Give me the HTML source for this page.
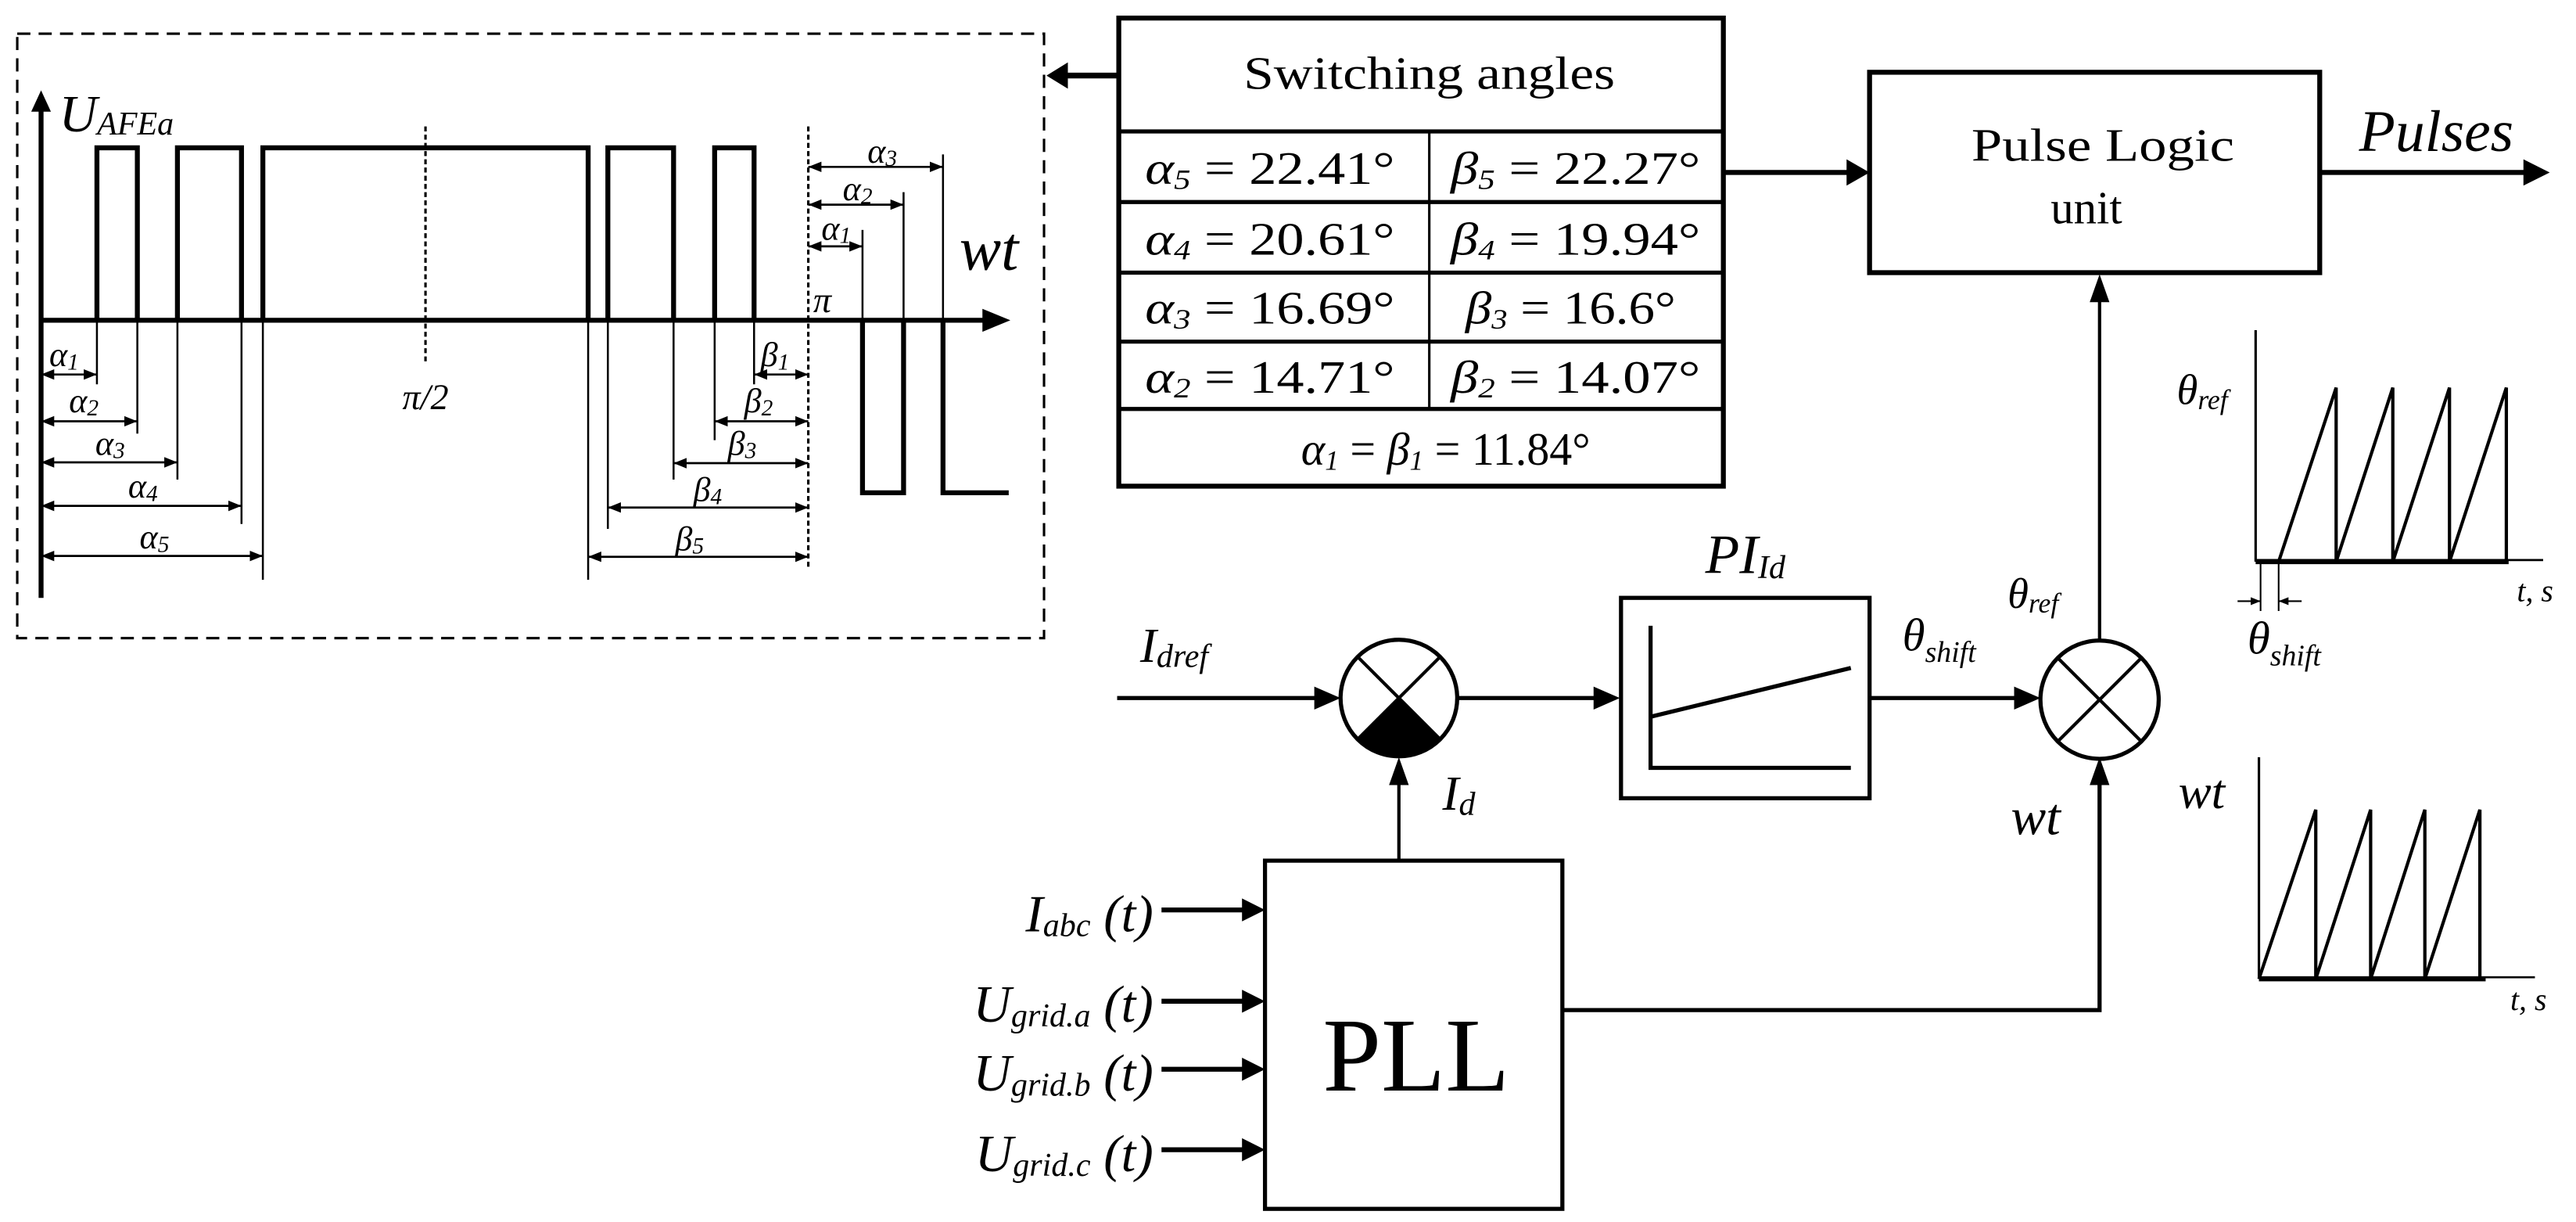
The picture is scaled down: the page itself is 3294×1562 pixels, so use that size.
<!DOCTYPE html>
<html><head><meta charset="utf-8"><style>
html,body{margin:0;padding:0;background:#fff}
svg{display:block}
text{font-family:"Liberation Serif",serif;fill:#000}
.i{font-style:italic}
</style></head><body>
<svg width="3294" height="1562" viewBox="0 0 1568 744" preserveAspectRatio="none" xmlns="http://www.w3.org/2000/svg">
<defs>
<marker id="a" viewBox="0 0 10 10" refX="10" refY="5" markerWidth="8" markerHeight="8" markerUnits="userSpaceOnUse" orient="auto-start-reverse"><path d="M0,1 L10,5 L0,9 z"/></marker>
<marker id="b" viewBox="0 0 10 10" refX="10" refY="5" markerWidth="6" markerHeight="6" markerUnits="strokeWidth" orient="auto-start-reverse"><path d="M0,1 L10,5 L0,9 z"/></marker>
</defs>
<g fill="none" stroke="#000">
<rect x="10.5" y="20.5" width="625" height="368" stroke-width="1.5" stroke-dasharray="8,5"/>
<line x1="25" y1="364" x2="25" y2="66" stroke-width="3"/>
<path d="M19,68 L25,55 L31,68z" fill="#000" stroke="none"/>
<line x1="25" y1="195" x2="600" y2="195" stroke-width="3"/>
<path d="M598,188 L615,195 L598,202z" fill="#000" stroke="none"/>
<path d="M59,195 V90 H83.6 V195 M108,195 V90 H147 V195 M160,195 V90 H358 V195 M370,195 V90 H410 V195 M435,195 V90 H459 V195 M525,195 V300 H550 V195 M574,195 V300 H614" stroke-width="3"/>
<line x1="259" y1="77" x2="259" y2="220" stroke-width="1.5" stroke-dasharray="3,2"/>
<line x1="492" y1="77" x2="492" y2="346" stroke-width="1.5" stroke-dasharray="3,2"/>
<g stroke-width="1.2">
<line x1="59" y1="195" x2="59" y2="234"/>
<line x1="83.6" y1="195" x2="83.6" y2="264"/>
<line x1="108" y1="195" x2="108" y2="292"/>
<line x1="147" y1="195" x2="147" y2="319"/>
<line x1="160" y1="195" x2="160" y2="353"/>
<line x1="358" y1="195" x2="358" y2="353"/>
<line x1="370" y1="195" x2="370" y2="322"/>
<line x1="410" y1="195" x2="410" y2="292"/>
<line x1="435" y1="195" x2="435" y2="268"/>
<line x1="459" y1="195" x2="459" y2="234"/>
<line x1="525" y1="140" x2="525" y2="195"/>
<line x1="550" y1="117" x2="550" y2="195"/>
<line x1="574" y1="94" x2="574" y2="195"/>
</g>
<g stroke-width="1.3" marker-start="url(#a)" marker-end="url(#a)">
<line x1="25" y1="228" x2="59" y2="228"/>
<line x1="25" y1="256.5" x2="83.6" y2="256.5"/>
<line x1="25" y1="281.5" x2="108" y2="281.5"/>
<line x1="25" y1="308" x2="147" y2="308"/>
<line x1="25" y1="338.5" x2="160" y2="338.5"/>
<line x1="459" y1="228" x2="492" y2="228"/>
<line x1="435" y1="256.5" x2="492" y2="256.5"/>
<line x1="410" y1="282" x2="492" y2="282"/>
<line x1="370" y1="309" x2="492" y2="309"/>
<line x1="358" y1="339" x2="492" y2="339"/>
<line x1="492" y1="150" x2="525" y2="150"/>
<line x1="492" y1="124.6" x2="550" y2="124.6"/>
<line x1="492" y1="101.6" x2="574" y2="101.6"/>
</g>
<line x1="680" y1="46" x2="648" y2="46" stroke-width="3.5"/>
<path d="M650,38 L637,46 L650,54z" fill="#000" stroke="none"/>
<rect x="681" y="11" width="368" height="285" stroke-width="3"/>
<line x1="681" y1="80" x2="1049" y2="80" stroke-width="2.5"/>
<line x1="681" y1="123" x2="1049" y2="123" stroke-width="2.5"/>
<line x1="681" y1="166" x2="1049" y2="166" stroke-width="2.5"/>
<line x1="681" y1="208" x2="1049" y2="208" stroke-width="2.5"/>
<line x1="681" y1="249" x2="1049" y2="249" stroke-width="2.5"/>
<line x1="870" y1="80" x2="870" y2="249" stroke-width="1.5"/>
<line x1="1049" y1="105" x2="1125" y2="105" stroke-width="3"/>
<path d="M1124,97 L1138,105 L1124,113z" fill="#000" stroke="none"/>
<rect x="1138" y="44" width="274" height="122" stroke-width="3"/>
<line x1="1412" y1="105" x2="1538" y2="105" stroke-width="3"/>
<path d="M1536,97 L1552,105 L1536,113z" fill="#000" stroke="none"/>
<line x1="1278" y1="389" x2="1278" y2="182" stroke-width="2"/>
<path d="M1272,184 L1278,167 L1284,184z" fill="#000" stroke="none"/>
<line x1="1373" y1="201" x2="1373" y2="342" stroke-width="1.5"/>
<line x1="1373" y1="341" x2="1548" y2="341" stroke-width="1.3"/>
<line x1="1373" y1="342" x2="1527" y2="342" stroke-width="3"/>
<path d="M1387,342 L1422,236 V342 L1456.5,236 V342 L1491,236 V342 L1525.6,236 V342" stroke-width="2"/>
<line x1="1376" y1="342" x2="1376" y2="372" stroke-width="1"/>
<line x1="1387" y1="342" x2="1387" y2="372" stroke-width="1"/>
<line x1="1362" y1="366" x2="1376" y2="366" stroke-width="1" marker-end="url(#b)"/>
<line x1="1401" y1="366" x2="1387" y2="366" stroke-width="1" marker-end="url(#b)"/>
<line x1="1375" y1="461" x2="1375" y2="596" stroke-width="1.5"/>
<line x1="1375" y1="595" x2="1543" y2="595" stroke-width="1.3"/>
<line x1="1375" y1="596" x2="1513" y2="596" stroke-width="3"/>
<path d="M1375,596 L1409.6,493 V596 L1443,493 V596 L1476,493 V596 L1509.5,493 V596" stroke-width="2"/>
<circle cx="851.5" cy="425" r="35.5" stroke-width="2.5"/>
<path d="M851.5,425 L826.4,450.1 A35.5,35.5 0 0 0 876.6,450.1 Z" fill="#000" stroke="none"/>
<line x1="826.4" y1="399.9" x2="876.6" y2="450.1" stroke-width="2"/>
<line x1="876.6" y1="399.9" x2="826.4" y2="450.1" stroke-width="2"/>
<circle cx="1278" cy="426" r="36" stroke-width="2.5"/>
<line x1="1252.5" y1="400.5" x2="1303.5" y2="451.5" stroke-width="2"/>
<line x1="1303.5" y1="400.5" x2="1252.5" y2="451.5" stroke-width="2"/>
<line x1="680" y1="425" x2="802" y2="425" stroke-width="2.5"/>
<path d="M800,418 L816,425 L800,432z" fill="#000" stroke="none"/>
<line x1="887" y1="425" x2="972" y2="425" stroke-width="2.5"/>
<path d="M970,418 L986,425 L970,432z" fill="#000" stroke="none"/>
<rect x="986.7" y="364" width="151.3" height="122" stroke-width="2.5"/>
<path d="M1004.7,381 V467.5 H1126.6" stroke-width="2.5"/>
<line x1="1004.7" y1="436.4" x2="1126.6" y2="406.7" stroke-width="2.5"/>
<line x1="1138" y1="425" x2="1228" y2="425" stroke-width="2.5"/>
<path d="M1226,418 L1242,425 L1226,432z" fill="#000" stroke="none"/>
<rect x="770" y="524" width="181" height="212" stroke-width="2.5"/>
<line x1="851.5" y1="524" x2="851.5" y2="476" stroke-width="2"/>
<path d="M845.5,478 L851.5,461 L857.5,478z" fill="#000" stroke="none"/>
<path d="M951,615 H1278 V476" stroke-width="2.5"/>
<path d="M1272,478 L1278,461 L1284,478z" fill="#000" stroke="none"/>
<g stroke-width="3">
<line x1="707" y1="554" x2="758" y2="554"/>
<line x1="707" y1="609.6" x2="758" y2="609.6"/>
<line x1="707" y1="651" x2="758" y2="651"/>
<line x1="707" y1="700" x2="758" y2="700"/>
</g>
<g fill="#000" stroke="none">
<path d="M756,547 L770,554 L756,561z"/>
<path d="M756,602.6 L770,609.6 L756,616.6z"/>
<path d="M756,644 L770,651 L756,658z"/>
<path d="M756,693 L770,700 L756,707z"/>
</g>
</g>

<text x="36" y="80" font-size="32" class="i">U<tspan font-size="20" dy="2">AFEa</tspan></text>
<text x="584" y="164" font-size="38" class="i">wt</text>
<text x="495" y="190" font-size="22" class="i">π</text>
<text x="259" y="249" font-size="22" text-anchor="middle" class="i">π/2</text>
<g font-size="21" class="i">
<text x="30" y="223">α<tspan font-size="14" dy="2">1</tspan></text>
<text x="42" y="251">α<tspan font-size="14" dy="2">2</tspan></text>
<text x="58" y="277">α<tspan font-size="14" dy="2">3</tspan></text>
<text x="78" y="303">α<tspan font-size="14" dy="2">4</tspan></text>
<text x="85" y="334">α<tspan font-size="14" dy="2">5</tspan></text>
<text x="463" y="223">β<tspan font-size="14" dy="2">1</tspan></text>
<text x="453" y="251">β<tspan font-size="14" dy="2">2</tspan></text>
<text x="443" y="277">β<tspan font-size="14" dy="2">3</tspan></text>
<text x="422" y="305">β<tspan font-size="14" dy="2">4</tspan></text>
<text x="411" y="335">β<tspan font-size="14" dy="2">5</tspan></text>
<text x="500" y="146">α<tspan font-size="14" dy="2">1</tspan></text>
<text x="513" y="122">α<tspan font-size="14" dy="2">2</tspan></text>
<text x="528" y="99">α<tspan font-size="14" dy="2">3</tspan></text>
</g>
<text x="757" y="54" font-size="28" textLength="226" lengthAdjust="spacingAndGlyphs">Switching angles</text>
<g font-size="28">
<text x="697" y="112" textLength="152" lengthAdjust="spacingAndGlyphs"><tspan class="i">α</tspan><tspan font-size="17" class="i" dy="3">5</tspan><tspan dy="-3"> = 22.41°</tspan></text>
<text x="883" y="112" textLength="152" lengthAdjust="spacingAndGlyphs"><tspan class="i">β</tspan><tspan font-size="17" class="i" dy="3">5</tspan><tspan dy="-3"> = 22.27°</tspan></text>
<text x="697" y="155" textLength="152" lengthAdjust="spacingAndGlyphs"><tspan class="i">α</tspan><tspan font-size="17" class="i" dy="3">4</tspan><tspan dy="-3"> = 20.61°</tspan></text>
<text x="883" y="155" textLength="152" lengthAdjust="spacingAndGlyphs"><tspan class="i">β</tspan><tspan font-size="17" class="i" dy="3">4</tspan><tspan dy="-3"> = 19.94°</tspan></text>
<text x="697" y="197" textLength="152" lengthAdjust="spacingAndGlyphs"><tspan class="i">α</tspan><tspan font-size="17" class="i" dy="3">3</tspan><tspan dy="-3"> = 16.69°</tspan></text>
<text x="892" y="197" textLength="128" lengthAdjust="spacingAndGlyphs"><tspan class="i">β</tspan><tspan font-size="17" class="i" dy="3">3</tspan><tspan dy="-3"> = 16.6°</tspan></text>
<text x="697" y="239" textLength="152" lengthAdjust="spacingAndGlyphs"><tspan class="i">α</tspan><tspan font-size="17" class="i" dy="3">2</tspan><tspan dy="-3"> = 14.71°</tspan></text>
<text x="883" y="239" textLength="152" lengthAdjust="spacingAndGlyphs"><tspan class="i">β</tspan><tspan font-size="17" class="i" dy="3">2</tspan><tspan dy="-3"> = 14.07°</tspan></text>
<text x="792" y="283" textLength="176" lengthAdjust="spacingAndGlyphs"><tspan class="i">α</tspan><tspan font-size="17" class="i" dy="3">1</tspan><tspan dy="-3"> = </tspan><tspan class="i">β</tspan><tspan font-size="17" class="i" dy="3">1</tspan><tspan dy="-3"> = 11.84°</tspan></text>
</g>
<text x="1200" y="98" font-size="28" textLength="160" lengthAdjust="spacingAndGlyphs">Pulse Logic</text>
<text x="1270" y="136" font-size="28" text-anchor="middle">unit</text>
<text x="1436" y="92" font-size="36" class="i">Pulses</text>
<text x="1325" y="246" font-size="26" class="i">θ<tspan font-size="17" dy="3">ref</tspan></text>
<text x="1532" y="366" font-size="19" class="i">t, s</text>
<text x="1368" y="398" font-size="28" class="i">θ<tspan font-size="18" dy="7">shift</tspan></text>
<text x="1326" y="492" font-size="30" class="i">wt</text>
<text x="1528" y="615" font-size="19" class="i">t, s</text>
<text x="1038" y="349" font-size="34" class="i">PI<tspan font-size="20" dy="3">Id</tspan></text>
<text x="1158" y="396" font-size="28" class="i">θ<tspan font-size="18" dy="7">shift</tspan></text>
<text x="1222" y="370" font-size="26" class="i">θ<tspan font-size="17" dy="3">ref</tspan></text>
<text x="1224" y="508" font-size="32" class="i">wt</text>
<text x="694" y="403" font-size="30" class="i">I<tspan font-size="20" dy="3">dref</tspan></text>
<text x="878" y="493" font-size="30" class="i">I<tspan font-size="20" dy="3">d</tspan></text>
<text x="862" y="664" font-size="64" text-anchor="middle">PLL</text>
<g font-size="32" class="i" text-anchor="end">
<text x="702" y="567">I<tspan font-size="20" dy="3">abc</tspan><tspan dy="-3"> (t)</tspan></text>
<text x="702" y="622">U<tspan font-size="20" dy="3">grid.a</tspan><tspan dy="-3"> (t)</tspan></text>
<text x="702" y="664">U<tspan font-size="20" dy="3">grid.b</tspan><tspan dy="-3"> (t)</tspan></text>
<text x="702" y="713">U<tspan font-size="20" dy="3">grid.c</tspan><tspan dy="-3"> (t)</tspan></text>
</g>
</svg>
</body></html>
